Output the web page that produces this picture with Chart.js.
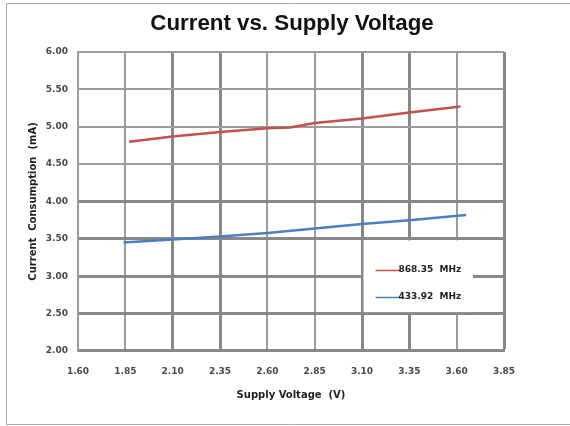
<!DOCTYPE html>
<html>
<head>
<meta charset="utf-8">
<title>Current vs. Supply Voltage</title>
<script src="https://cdn.jsdelivr.net/npm/chart.js@4/dist/chart.umd.min.js"></script>
<style>
  html, body { margin: 0; padding: 0; background: #fff; }
  canvas { display: block; }
</style>
</head>
<body>
<canvas id="chart" width="570" height="426"></canvas>
<script>
// Supply voltage (V) and current draw (mA) for each carrier frequency
const seriesLabels = ['868.35  MHz', '433.92  MHz'];
const voltsHigh = [1.87, 2.10, 2.35, 2.60, 2.72, 2.85, 3.10, 3.35, 3.62];
const currentHigh = [4.80, 4.87, 4.93, 4.98, 4.99, 5.05, 5.11, 5.19, 5.27];
const voltsLow = [1.84, 2.10, 2.35, 2.60, 2.85, 3.10, 3.35, 3.65];
const currentLow = [3.45, 3.49, 3.53, 3.58, 3.64, 3.70, 3.75, 3.82];

// Axis tick values
const xTickValues = [1.60, 1.85, 2.10, 2.35, 2.60, 2.85, 3.10, 3.35, 3.60, 3.85];
const yTickValues = [2.00, 2.50, 3.00, 3.50, 4.00, 4.50, 5.00, 5.50, 6.00];

const toPoints = (xs, ys) => xs.map((v, i) => ({ x: v, y: ys[i] }));

const gridThin = '#9b9b9b';
const gridThick = '#888888';
const xThick = [2, 3, 6, 7, 9];
const yThick = [0, 1, 2, 3, 4];

const tickFont = { family: 'DejaVu Sans', size: 9, weight: 'bold' };
const tickColor = '#474752';
const labelFont = { family: 'DejaVu Sans', size: 10, weight: 'bold' };

// Outer frame of the figure
const frame = {
  id: 'frame',
  beforeDraw(chart) {
    const { ctx, width, height } = chart;
    ctx.save();
    ctx.fillStyle = '#fff';
    ctx.fillRect(0, 0, width, height);
    ctx.strokeStyle = '#a8a8a8';
    ctx.lineWidth = 1;
    ctx.beginPath();
    ctx.moveTo(width, 3.5);
    ctx.lineTo(6.5, 3.5);
    ctx.lineTo(6.5, height - 1.5);
    ctx.lineTo(width, height - 1.5);
    ctx.stroke();
    ctx.restore();
  }
};

// Legend box sitting inside the plot area
const insetLegend = {
  id: 'insetLegend',
  afterDatasetsDraw(chart) {
    const { ctx, chartArea, scales: { x, y } } = chart;
    const left = x.getPixelForValue(3.10) + 1.5;
    const right = chartArea.right - 31;
    const top = y.getPixelForValue(3.50) + 1.5;
    const bottom = y.getPixelForValue(2.50) - 1.5;
    ctx.save();
    ctx.fillStyle = '#fff';
    ctx.fillRect(left, top, right - left, bottom - top);
    ctx.font = 'bold 9px "DejaVu Sans"';
    ctx.textBaseline = 'middle';
    ctx.textAlign = 'left';
    chart.data.datasets.forEach((ds, i) => {
      const rowY = Math.round(top + 30 + i * 27) + 0.5;
      ctx.strokeStyle = ds.borderColor;
      ctx.lineWidth = 1.5;
      ctx.beginPath();
      ctx.moveTo(left + 12, rowY);
      ctx.lineTo(left + 37, rowY);
      ctx.stroke();
      ctx.fillStyle = '#1e1e28';
      ctx.fillText(ds.label, left + 35, rowY - 1);
    });
    ctx.restore();
  }
};

new Chart(document.getElementById('chart'), {
  type: 'line',
  data: {
    datasets: [
      {
        label: seriesLabels[0],
        data: toPoints(voltsHigh, currentHigh),
        borderColor: '#c4504e',
        borderWidth: 2.5,
        pointRadius: 0,
        tension: 0,
        fill: false
      },
      {
        label: seriesLabels[1],
        data: toPoints(voltsLow, currentLow),
        borderColor: '#4a7fc4',
        borderWidth: 2.5,
        pointRadius: 0,
        tension: 0,
        fill: false
      }
    ]
  },
  options: {
    responsive: false,
    animation: false,
    layout: { padding: { left: 14, right: 0, top: 0, bottom: 20 } },
    plugins: {
      legend: { display: false },
      tooltip: { enabled: false },
      title: {
        display: true,
        text: 'Current vs. Supply Voltage',
        color: '#111111',
        font: { family: 'Liberation Sans', size: 22.3, weight: 'bold' },
        padding: { top: 10, bottom: 15.2 }
      }
    },
    scales: {
      x: {
        type: 'linear',
        min: 1.60,
        max: 3.85,
        afterBuildTicks: (scale) => { scale.ticks = xTickValues.map(v => ({ value: v })); },
        afterFit: (scale) => { scale.height = 55; },
        ticks: {
          padding: 15,
          maxRotation: 0,
          autoSkip: false,
          color: tickColor,
          font: tickFont,
          callback: (v) => Number(v).toFixed(2)
        },
        grid: {
          drawTicks: false,
          color: (c) => xThick.includes(c.index) ? gridThick : gridThin,
          lineWidth: (c) => xThick.includes(c.index) ? 3 : 2
        },
        border: { color: gridThick, width: 3 },
        title: {
          display: true,
          text: 'Supply Voltage  (V)',
          color: '#1e1e28',
          font: labelFont,
          padding: { top: 0, bottom: 5 }
        }
      },
      y: {
        type: 'linear',
        min: 2.00,
        max: 6.00,
        afterBuildTicks: (scale) => { scale.ticks = yTickValues.map(v => ({ value: v })); },
        afterFit: (scale) => { scale.width = 64; },
        ticks: {
          padding: 10,
          autoSkip: false,
          color: tickColor,
          font: tickFont,
          callback: (v) => Number(v).toFixed(2)
        },
        grid: {
          drawTicks: false,
          color: (c) => yThick.includes(c.index) ? gridThick : gridThin,
          lineWidth: (c) => yThick.includes(c.index) ? 3 : 2
        },
        border: { color: gridThin, width: 2 },
        title: {
          display: true,
          text: 'Current  Consumption  (mA)',
          color: '#1e1e28',
          font: labelFont,
          padding: { top: 13, bottom: 0 }
        }
      },
      // empty right-hand gutter so the title centres over the whole figure
      gutter: {
        type: 'linear',
        position: 'right',
        display: true,
        afterFit: (scale) => { scale.width = 66; },
        ticks: { display: false },
        grid: { display: false },
        border: { display: false }
      }
    }
  },
  plugins: [frame, insetLegend]
});
</script>
</body>
</html>
